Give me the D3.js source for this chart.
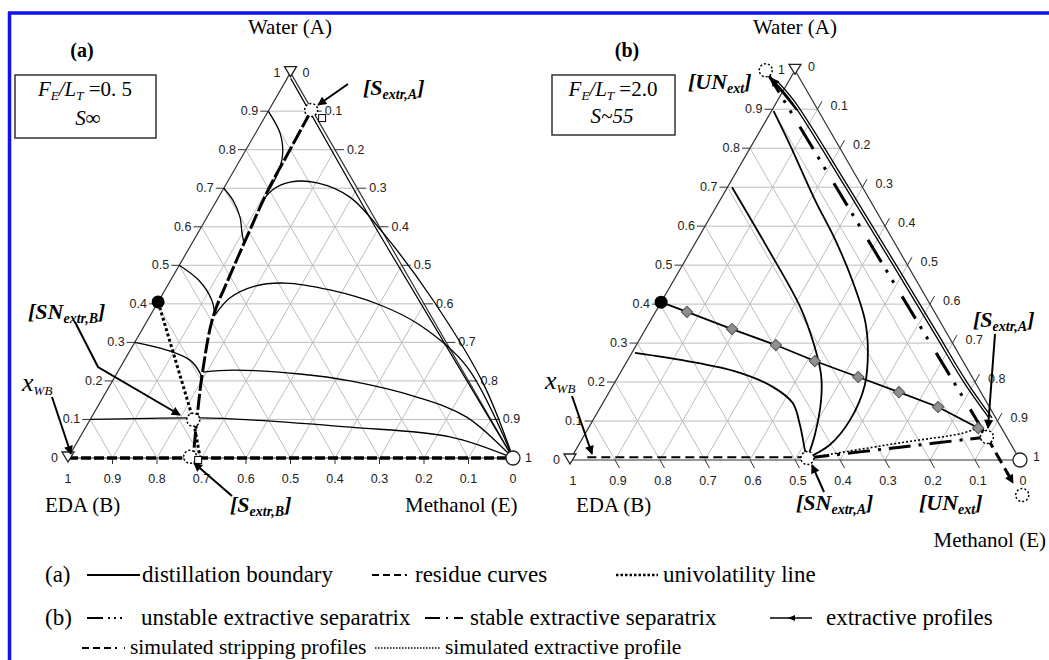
<!DOCTYPE html>
<html lang="en">
<head>
<meta charset="utf-8">
<title>Extractive distillation maps</title>
<script src="https://d3js.org/d3.v7.min.js"></script>
<style>
  body { margin: 0; background: #fff; }
</style>
</head>
<body>
<script>
"use strict";

// tick values (mole fraction)
const ticks = [0, 0.1, 0.2, 0.3, 0.4, 0.5, 0.6, 0.7, 0.8, 0.9, 1];

// every point is [xA (water), xE (methanol)], xB (EDA) = 1 - xA - xE

// ---- panel (a)
const aBoundary = [[0.895,0.096],[0.799,0.099],[0.695,0.102],[0.592,0.113],[0.475,0.127],
                   [0.366,0.143],[0.228,0.189],[0.106,0.237],[0.003,0.28]];
const aUnivol = [[0.405,0],[0.099,0.232],[0.003,0.295]];
const aResidue = [
  [[0.9,0],[0.843,0.055],[0.791,0.087],[0.74,0.102],[0.695,0.104]],
  [[0.7,0],[0.669,0.036],[0.625,0.074],[0.584,0.099],[0.56,0.115]],
  [[0.5,0],[0.46,0.065],[0.41,0.118],[0.375,0.142]],
  [[0.3,0],[0.28,0.082],[0.254,0.147],[0.221,0.186],[0.208,0.196]],
  [[0.1,0],[0.104,0.245],[0.099,0.36],[0.08,0.594],[0.055,0.831],[0,1]],
  [[0.223,0.192],[0.228,0.257],[0.218,0.412],[0.2,0.534],[0.158,0.705],[0.106,0.843],[0,1]],
  [[0.371,0.145],[0.415,0.156],[0.446,0.197],[0.454,0.261],[0.436,0.371],[0.397,0.503],[0.345,0.618],[0.236,0.779],[0,1]],
  [[0.657,0.103],[0.695,0.111],[0.716,0.141],[0.714,0.203],[0.677,0.295],[0.584,0.416],[0.41,0.615],[0.195,0.835],[0,1]]
];
const aEdgeCurve = [[0.985,0.008],[0.6,0.39],[0.3,0.695],[0,1]];
const aBaseCurve = [[0,0],[0,1]];
const aOpenCircles = [[0.903,0.095],[0.099,0.232],[0.003,0.273]];
const aSquares = [[0.882,0.13],[-0.005,0.295]];
const aBlackDots = [[0.405,0]];

// ---- panel (b)
const bProfile = [[0.405,0],[0.38,0.07],[0.336,0.192],[0.295,0.31],[0.254,0.417],[0.213,0.534],
                  [0.174,0.644],[0.136,0.75],[0.082,0.866],[0.059,0.897]];
const bDiamonds = [[0.38,0.07],[0.336,0.192],[0.295,0.31],[0.254,0.417],[0.213,0.534],
                   [0.174,0.644],[0.136,0.75],[0.082,0.866]];
const bCurves = [
  [[0.275,0.007],[0.254,0.133],[0.226,0.258],[0.187,0.358],[0.146,0.422],[0.09,0.466],[0.013,0.518],[0.005,0.525]],
  [[0.70,0.01],[0.547,0.164],[0.393,0.315],[0.295,0.395],[0.218,0.449],[0.154,0.481],[0.064,0.512],[0.005,0.525]],
  [[0.895,0.005],[0.808,0.085],[0.667,0.211],[0.565,0.307],[0.462,0.396],[0.359,0.476],[0.282,0.521],
   [0.192,0.559],[0.103,0.571],[0.039,0.558],[0.005,0.525]]
];
const bUnstable = [[1.0,-0.065],[0.5,0.446],[0.059,0.897]];
const bDouble1 = [[0.97,-0.03],[0.92,0.032],[0.7,0.262],[0.5,0.468],[0.326,0.646],[0.2,0.775],[0.108,0.877]];
const bDouble2 = [[0.97,-0.023],[0.92,0.039],[0.7,0.269],[0.5,0.475],[0.326,0.653],[0.2,0.782],[0.108,0.884]];
const bStable = [[0.005,0.525],[0.033,0.717],[0.059,0.897]];
const bStableOut = [[0.059,0.897],[-0.059,1.014]];
const bSimExtr = [[0.005,0.525],[0.044,0.711],[0.069,0.839],[0.082,0.864]];
const bStripping = [[0.007,0.035],[0.007,0.52]];
const bOpenCircles = [[1.0,-0.065],[0.005,0.525],[0.059,0.897],[-0.09,1.05]];
const bBlackDots = [[0.405,0]];

const vertexTriangles = [[1,0],[0,0]];
const vertexCircle = [[0,1]];

// ---------------------------------------------------------------
const W = 1049, H = 660;
const serif = "'Liberation Serif', 'Times New Roman', serif";
const sans = "'Liberation Sans', Arial, sans-serif";

let svg = d3.select("body").append("svg")
  .attr("width", W).attr("height", H)
  .style("font-family", serif);

let defs = svg.append("defs");
defs.append("marker").attr("id", "arr")
  .attr("viewBox", "0 0 10 10").attr("refX", 9).attr("refY", 5)
  .attr("markerWidth", 11).attr("markerHeight", 9)
  .attr("markerUnits", "userSpaceOnUse").attr("orient", "auto")
  .append("path").attr("d", "M0,0L10,5L0,10z").attr("fill", "#000");

// blue frame
svg.append("line").attr("x1", 8).attr("x2", W).attr("y1", 13).attr("y2", 13)
  .attr("stroke", "#1010f0").attr("stroke-width", 3.5);
svg.append("line").attr("x1", 9.5).attr("x2", 9.5).attr("y1", 12).attr("y2", H)
  .attr("stroke", "#1010f0").attr("stroke-width", 3.5);

function makePanel(bx, ex, by) {
  let h = (ex - bx) * Math.sqrt(3) / 2;
  let x = d3.scaleLinear().domain([0, 1]).range([bx, ex]);
  let y = d3.scaleLinear().domain([0, 1]).range([by, by - h]);
  let p = d => [x(d[1] + d[0] / 2), y(d[0])];
  let g = svg.append("g");
  return {x, y, p, g};
}

function lineOf(P, smooth) {
  return d3.line().x(d => P.p(d)[0]).y(d => P.p(d)[1])
    .curve(smooth ? d3.curveCatmullRom.alpha(0.5) : d3.curveLinear);
}

function drawFrame(P, kind) {
  let g = P.g;
  // grid
  let inner = ticks.filter(v => v > 0 && v < 1);
  let grid = [];
  inner.forEach(v => {
    grid.push([[v, 0], [v, 1 - v]]);
    grid.push([[0, v], [1 - v, v]]);
    grid.push([[0, 1 - v], [1 - v, 0]]);
  });
  g.selectAll(".grid").data(grid).enter().append("path")
    .attr("d", lineOf(P, false)).attr("fill", "none")
    .attr("stroke", "#bdbdbd").attr("stroke-width", 1);
  // edges
  g.append("path").datum([[1, 0], [0, 0], [0, 1], [1, 0]])
    .attr("d", lineOf(P, false)).attr("fill", "none")
    .attr("stroke", "#333").attr("stroke-width", 1.2);

  let lab = g.append("g").style("font-family", sans).style("font-size", "12.5px")
    .attr("fill", "#222");
  // left edge: water fraction
  ticks.forEach(v => {
    let q = P.p([v, 0]);
    if (v > 0 && v < 1) g.append("line").attr("x1", q[0]).attr("y1", q[1])
      .attr("x2", q[0] - 8).attr("y2", q[1]).attr("stroke", "#333");
    lab.append("text").attr("x", q[0] - 10).attr("y", q[1] + 4)
      .attr("text-anchor", "end").text(String(v));
  });
  // right edge: methanol fraction
  ticks.forEach(v => {
    let q = P.p([1 - v, v]);
    if (kind === "a") {
      if (v > 0 && v < 1) g.append("line").attr("x1", q[0]).attr("y1", q[1])
        .attr("x2", q[0] + 9).attr("y2", q[1]).attr("stroke", "#333");
      lab.append("text").attr("x", q[0] + 12).attr("y", q[1] + 4).text(String(v));
    } else {
      if (v > 0 && v < 1) g.append("line").attr("x1", q[0]).attr("y1", q[1])
        .attr("x2", q[0] + 4.5).attr("y2", q[1] - 8).attr("stroke", "#333");
      lab.append("text").attr("x", q[0] + 13).attr("y", q[1] + 1).text(String(v));
    }
  });
  // bottom edge: EDA fraction
  ticks.forEach(v => {
    let q = P.p([0, 1 - v]);
    if (kind === "a") {
      if (v > 0 && v < 1) g.append("line").attr("x1", q[0]).attr("y1", q[1])
        .attr("x2", q[0]).attr("y2", q[1] + 6).attr("stroke", "#333");
      lab.append("text").attr("x", q[0]).attr("y", q[1] + 25)
        .attr("text-anchor", "middle").text(String(v));
    } else {
      if (v > 0 && v < 1) g.append("line").attr("x1", q[0]).attr("y1", q[1])
        .attr("x2", q[0] + 4.5).attr("y2", q[1] + 8).attr("stroke", "#333");
      lab.append("text").attr("x", q[0] + 3).attr("y", q[1] + 25)
        .attr("text-anchor", "middle").text(String(v));
    }
  });
}

function drawVertices(P) {
  P.g.selectAll(".vt").data(vertexTriangles).enter().append("path")
    .attr("d", "M-6,-5L6,-5L0,5z")
    .attr("transform", d => `translate(${P.p(d)[0]},${P.p(d)[1] - 1})`)
    .attr("fill", "#fff").attr("stroke", "#222").attr("stroke-width", 1.3);
  P.g.selectAll(".vc").data(vertexCircle).enter().append("circle")
    .attr("cx", d => P.p(d)[0]).attr("cy", d => P.p(d)[1]).attr("r", 7)
    .attr("fill", "#fff").attr("stroke", "#222").attr("stroke-width", 1.3);
}

function path(P, data, smooth, width, dash, marker) {
  let e = P.g.append("path").datum(data).attr("d", lineOf(P, smooth))
    .attr("fill", "none").attr("stroke", "#000").attr("stroke-width", width);
  if (dash) e.attr("stroke-dasharray", dash);
  if (marker) e.attr("marker-end", "url(#arr)");
  return e;
}

function openCircles(P, data, r) {
  P.g.selectAll(null).data(data).enter().append("circle")
    .attr("cx", d => P.p(d)[0]).attr("cy", d => P.p(d)[1]).attr("r", r)
    .attr("fill", "#fff").attr("stroke", "#000").attr("stroke-width", 1.5)
    .attr("stroke-dasharray", "2,2");
}

function blackDots(P, data) {
  P.g.selectAll(null).data(data).enter().append("circle")
    .attr("cx", d => P.p(d)[0]).attr("cy", d => P.p(d)[1]).attr("r", 6.5)
    .attr("fill", "#000");
}

// rich text with subscripts: parts = [[text, sub?, style], ...]
function rich(x, y, parts, opt) {
  let t = svg.append("text").attr("x", x).attr("y", y)
    .attr("text-anchor", opt.anchor || "start")
    .attr("font-weight", opt.weight || "normal");
  let down = false;
  parts.forEach(([s, sub, style]) => {
    let ts = t.append("tspan").text(s)
      .attr("font-size", sub ? opt.sub : opt.size)
      .attr("font-style", style || opt.style || "normal");
    if (sub && !down) { ts.attr("dy", 4); down = true; }
    else if (!sub && down) { ts.attr("dy", -4); down = false; }
  });
  return t;
}

function arrow(pts) {
  svg.append("path").attr("d", d3.line()(pts)).attr("fill", "none")
    .attr("stroke", "#000").attr("stroke-width", 2).attr("marker-end", "url(#arr)");
}

// ================= panel (a)
let PA = makePanel(68, 513, 458);
drawFrame(PA, "a");
aResidue.forEach(c => path(PA, c, true, 1.3));
path(PA, aEdgeCurve, false, 1.2);
path(PA, aBaseCurve, false, 3.5, "10,3");
path(PA, aBoundary, true, 3, "16,3");
path(PA, aUnivol, false, 3, "3,2.5");
openCircles(PA, aOpenCircles, 6.5);
PA.g.selectAll(null).data(aSquares).enter().append("rect")
  .attr("x", d => PA.p(d)[0] - 3.5).attr("y", d => PA.p(d)[1] - 3.5)
  .attr("width", 7).attr("height", 7).attr("fill", "#fff").attr("stroke", "#000");
blackDots(PA, aBlackDots);
drawVertices(PA);

// ================= panel (b)
let PB = makePanel(570, 1020, 460);
drawFrame(PB, "b");
path(PB, bStripping, false, 2, "9,5");
bCurves.forEach(c => path(PB, c, true, 1.8));
path(PB, bDouble1, true, 1.3);
path(PB, bDouble2, true, 1.3);
path(PB, bUnstable, false, 3, "26,9,3,9,3,16");
path(PB, bSimExtr, true, 1.6, "2,2");
path(PB, bStable, true, 3, "22,8,3,8");
path(PB, bStableOut, false, 3, "12,6", true);
path(PB, bProfile, false, 1.8);
PB.g.selectAll(null).data(bDiamonds).enter().append("rect")
  .attr("x", -4).attr("y", -4).attr("width", 8).attr("height", 8)
  .attr("transform", d => `translate(${PB.p(d)[0]},${PB.p(d)[1]}) rotate(45)`)
  .attr("fill", "#8f8f8f").attr("stroke", "#555").attr("stroke-width", 1);
openCircles(PB, bOpenCircles, 6.5);
blackDots(PB, bBlackDots);
drawVertices(PB);

// ================= text
svg.append("text").attr("x", 290).attr("y", 34).attr("text-anchor", "middle")
  .attr("font-size", 21).text("Water (A)");
svg.append("text").attr("x", 795).attr("y", 34).attr("text-anchor", "middle")
  .attr("font-size", 21).text("Water (A)");
svg.append("text").attr("x", 82).attr("y", 57).attr("text-anchor", "middle")
  .attr("font-size", 20).attr("font-weight", "bold").text("(a)");
svg.append("text").attr("x", 627).attr("y", 57).attr("text-anchor", "middle")
  .attr("font-size", 20).attr("font-weight", "bold").text("(b)");
svg.append("text").attr("x", 45).attr("y", 512).attr("font-size", 21).text("EDA (B)");
svg.append("text").attr("x", 405).attr("y", 512).attr("font-size", 21).text("Methanol (E)");
svg.append("text").attr("x", 576).attr("y", 512).attr("font-size", 21).text("EDA (B)");
svg.append("text").attr("x", 1046).attr("y", 547).attr("text-anchor", "end")
  .attr("font-size", 21).text("Methanol (E)");

// parameter boxes
svg.append("rect").attr("x", 15).attr("y", 75).attr("width", 141).attr("height", 63)
  .attr("fill", "none").attr("stroke", "#333").attr("stroke-width", 1.5);
rich(85, 96, [["F", 0, "italic"], ["E", 1, "italic"], ["/L", 0, "italic"], ["T", 1, "italic"], [" =0. 5", 0]],
  {size: 21, sub: 13, anchor: "middle"});
rich(88, 125, [["S\u221E", 0, "italic"]], {size: 21, sub: 13, anchor: "middle"});
svg.append("rect").attr("x", 552).attr("y", 75).attr("width", 123).attr("height", 60)
  .attr("fill", "none").attr("stroke", "#333").attr("stroke-width", 1.5);
rich(613, 96, [["F", 0, "italic"], ["E", 1, "italic"], ["/L", 0, "italic"], ["T", 1, "italic"], [" =2.0", 0]],
  {size: 21, sub: 13, anchor: "middle"});
rich(612, 123, [["S~55", 0, "italic"]], {size: 21, sub: 13, anchor: "middle"});

// point labels
const bi = {size: 22, sub: 14, weight: "bold", style: "italic"};
rich(363, 95, [["[S", 0], ["extr,A", 1], ["]", 0]], bi);
rich(28, 319, [["[SN", 0], ["extr,B", 1], ["]", 0]], bi);
rich(230, 512, [["[S", 0], ["extr,B", 1], ["]", 0]], bi);
rich(688, 89, [["[UN", 0], ["ext", 1], ["]", 0]], bi);
rich(973, 327, [["[S", 0], ["extr,A", 1], ["]", 0]], bi);
rich(796, 510, [["[SN", 0], ["extr,A", 1], ["]", 0]], bi);
rich(919, 510, [["[UN", 0], ["ext", 1], ["]", 0]], bi);
rich(22, 391, [["x", 0], ["WB", 1]], {size: 26, sub: 13, style: "italic"});
rich(545, 389, [["x", 0], ["WB", 1]], {size: 26, sub: 13, style: "italic"});

// annotation arrows
arrow([[348, 84], [318, 105]]);
arrow([[75, 322], [98, 367], [180, 415]]);
arrow([[52, 397], [71, 454]]);
arrow([[232, 496], [194, 463]]);
arrow([[797, 110], [771, 78]]);
arrow([[572, 396], [592, 454]]);
arrow([[995, 334], [988, 428]]);
arrow([[824, 492], [812, 465]]);

// ================= legend
let lg = svg.append("g").attr("font-size", 23);
function sample(x1, x2, y, width, dash, dot) {
  let l = lg.append("line").attr("x1", x1).attr("x2", x2).attr("y1", y).attr("y2", y)
    .attr("stroke", "#000").attr("stroke-width", width);
  if (dash) l.attr("stroke-dasharray", dash);
  if (dot) lg.append("path").attr("d", `M${(x1 + x2) / 2 + 4},${y - 3}L${(x1 + x2) / 2 - 3},${y}L${(x1 + x2) / 2 + 4},${y + 3}z`);
}
lg.append("text").attr("x", 45).attr("y", 582).text("(a)");
sample(87, 140, 575, 2);
lg.append("text").attr("x", 142).attr("y", 582).text("distillation boundary");
sample(372, 408, 575, 1.8, "7,4,7,4,7,4,2");
lg.append("text").attr("x", 415).attr("y", 582).text("residue curves");
sample(616, 658, 575, 2.5, "2.5,2");
lg.append("text").attr("x", 663).attr("y", 582).text("univolatility line");

lg.append("text").attr("x", 45).attr("y", 625).text("(b)");
sample(87, 136, 618, 2, "16,5,2,4,2,4,2,20");
lg.append("text").attr("x", 141).attr("y", 625).text("unstable extractive separatrix");
sample(425, 463, 618, 2, "15,6,2,6,15");
lg.append("text").attr("x", 470).attr("y", 625).text("stable extractive separatrix");
sample(770, 812, 618, 1.5, null, true);
lg.append("text").attr("x", 826).attr("y", 625).text("extractive profiles");

sample(82, 125, 648, 1.8, "7,4,7,4,7,4,2");
lg.append("text").attr("x", 130).attr("y", 654).attr("font-size", 21.5).text("simulated stripping profiles");
sample(375, 440, 648, 1.5, "1.5,1.5");
lg.append("text").attr("x", 445).attr("y", 654).attr("font-size", 21.5).text("simulated extractive profile");
</script>
</body>
</html>
